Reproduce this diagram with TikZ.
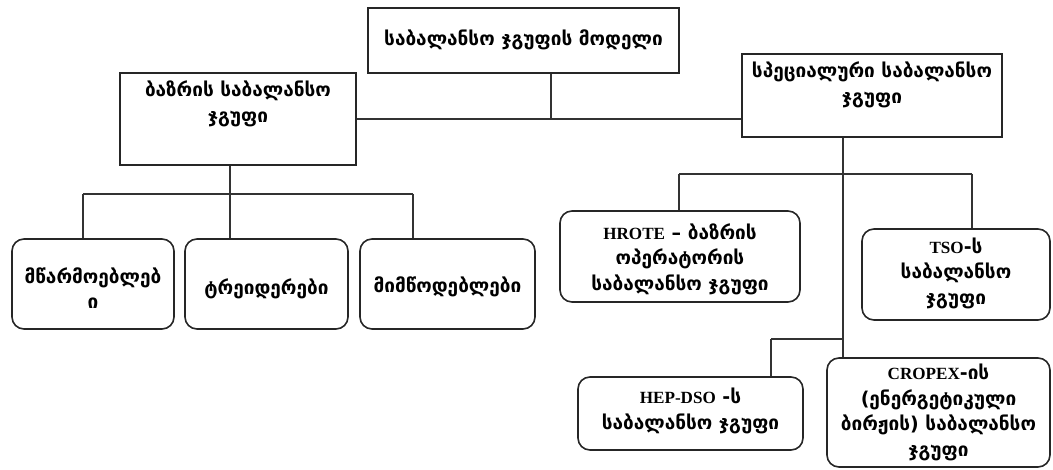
\documentclass[tikz,border=0pt]{standalone}
\usepackage{fontspec}
\setmainfont{DejaVu Sans}
\newfontfamily\latf{Liberation Serif}[Scale=0.9]
\begin{document}
\begin{tikzpicture}[x=1pt,y=-1pt,
  box/.style={draw=black!85,line width=1.6pt,inner sep=0pt},
  rbox/.style={box,rounded corners=12pt},
  txt/.style={align=center,inner sep=0pt,font=\fontsize{19}{25.5}\selectfont\bfseries},
  con/.style={draw=black!80,line width=1.1pt}]
\useasboundingbox (0,0) rectangle (1053,470);
% boxes
\node[box,minimum width=311pt,minimum height=65pt] (top) at (523.5,40.5) {};
\node[box,minimum width=236pt,minimum height=92pt] (L) at (238,119) {};
\node[box,minimum width=260pt,minimum height=83pt] (R) at (872,95.5) {};
\node[rbox,minimum width=162pt,minimum height=90pt] (b1) at (93,284) {};
\node[rbox,minimum width=163pt,minimum height=90pt] (b2) at (266.5,284) {};
\node[rbox,minimum width=175pt,minimum height=90pt] (b3) at (447.5,284) {};
\node[rbox,minimum width=240pt,minimum height=91pt] (hrote) at (680,256.5) {};
\node[rbox,minimum width=188pt,minimum height=91pt] (tso) at (956,274.5) {};
\node[rbox,minimum width=225pt,minimum height=73pt] (hep) at (690.5,413.5) {};
\node[rbox,minimum width=223pt,minimum height=109pt] (crop) at (938.5,412.5) {};
% texts
\node[txt] (ttop) at (523.5,40) {საბალანსო ჯგუფის მოდელი};
\node[txt] (tL) at (238,104) {ბაზრის საბალანსო\\ჯგუფი};
\node[txt] (tR) at (872,85) {სპეციალური საბალანსო\\ჯგუფი};
\node[txt] (tb1) at (93,288) {მწარმოებლებ\\ი};
\node[txt] (tb2) at (266.5,289) {ტრეიდერები};
\node[txt] (tb3) at (447.5,287) {მიმწოდებლები};
\node[txt] (throte) at (680,259) {{\latf HROTE} – ბაზრის\\ოპერატორის\\საბალანსო ჯგუფი};
\node[txt] (ttso) at (956,273) {{\latf TSO}-ს\\საბალანსო\\ჯგუფი};
\node[txt] (thep) at (690.5,411) {{\latf HEP-DSO} -ს\\საბალანსო ჯგუფი};
\node[txt] (tcrop) at (938.5,412.5) {{\latf CROPEX}-ის\\(ენერგეტიკული\\ბირჟის) საბალანსო\\ჯგუფი};
% junctions
\coordinate (j1) at (551,119);
\coordinate (j2) at (230,194);
\coordinate (j3) at (843,174);
\coordinate (j4) at (843,339);
% connectors
\draw[con] (j1 |- top.south) -- (j1);
\draw[con] (j1 -| L.east) -- (j1 -| R.west);
\draw[con] (j2 |- L.south) -- (j2);
\draw[con] (83,194) -- (413,194);
\draw[con] (83,194) -- (83,0 |- b1.north);
\draw[con] (j2) -- (j2 |- b2.north);
\draw[con] (413,194) -- (413,0 |- b3.north);
\draw[con] (j3 |- R.south) -- (j3 |- crop.north);
\draw[con] (679,174) -- (972,174);
\draw[con] (679,174) -- (679,0 |- hrote.north);
\draw[con] (972,174) -- (972,0 |- tso.north);
\draw[con] (771,339) -- (j4);
\draw[con] (771,339) -- (771,0 |- hep.north);
\end{tikzpicture}
\end{document}
